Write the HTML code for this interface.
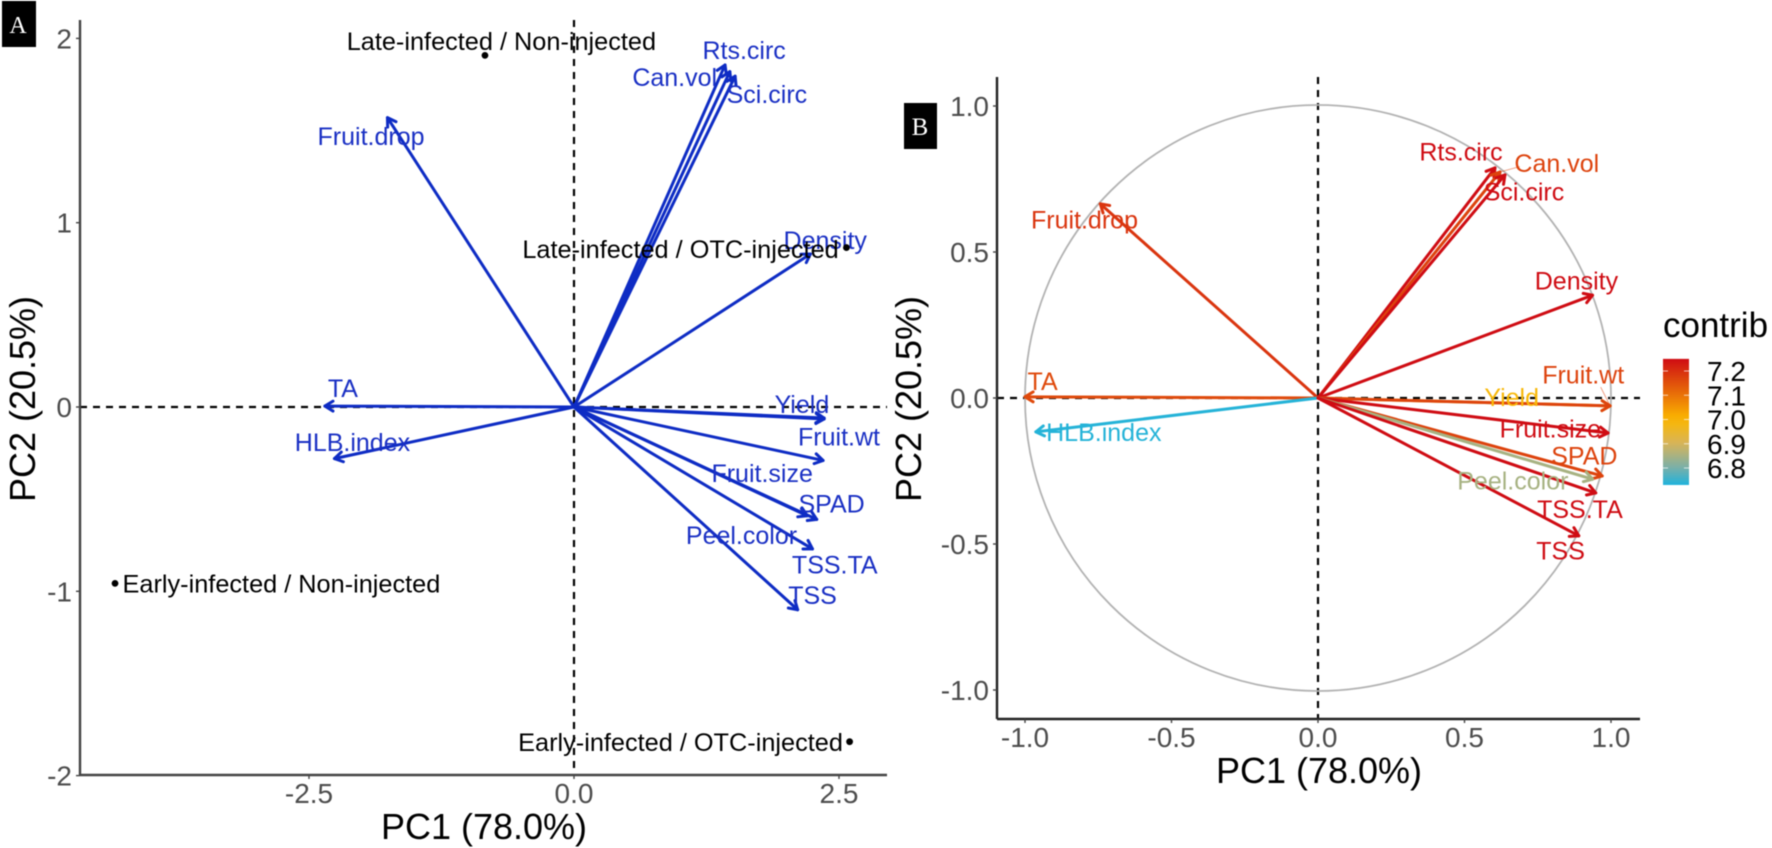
<!DOCTYPE html>
<html lang="en">
<head>
<meta charset="utf-8">
<title>PCA biplot and variable correlation circle</title>
<style>
html,body{margin:0;padding:0;background:#fff;overflow:hidden;}
#figure{display:block;width:1772px;height:848px;filter:blur(0.5px);}
text{font-family:"Liberation Sans",sans-serif;}
</style>
</head>
<body>
<svg id="figure" xmlns="http://www.w3.org/2000/svg" width="1772" height="848" viewBox="0 0 1772 848">
  <rect x="0" y="0" width="1772" height="848" fill="#ffffff"/>
  <g id="panelA"></g>
  <g id="panelB"></g>
  <g id="legend"></g>
  <g>
    <rect x="2" y="1" width="34" height="46" fill="#000"/>
    <text x="18" y="33" text-anchor="middle" fill="#fff" style="font-family:'Liberation Serif',serif;font-size:24px;">A</text>
  </g>
  <g>
    <rect x="904" y="103" width="33" height="46" fill="#000"/>
    <text x="920" y="135" text-anchor="middle" fill="#fff" style="font-family:'Liberation Serif',serif;font-size:25px;">B</text>
  </g>
</svg>
<script>
// Variables shared by both panels
const variables = ["Rts.circ","Can.vol","Sci.circ","Fruit.drop","Density","TA","HLB.index","Yield","Fruit.wt","Fruit.size","SPAD","Peel.color","TSS.TA","TSS"];

// Panel A: biplot arrows and label anchors (PC units)
const biplotPC1 = [1.425,1.47,1.52,-1.76,2.23,-2.35,-2.26,2.36,2.36,2.35,2.29,2.20,2.25,2.11];
const biplotPC2 = [1.856,1.82,1.795,1.57,0.83,0.005,-0.28,-0.065,-0.06,-0.29,-0.61,-0.59,-0.77,-1.10];
const biplotLabelPC1 = [1.605,0.95,1.82,-1.915,2.37,-2.18,-2.09,2.15,2.50,1.775,2.43,1.58,2.46,2.25];
const biplotLabelPC2 = [1.938,1.79,1.698,1.471,0.907,0.103,-0.191,0.017,-0.161,-0.357,-0.523,-0.694,-0.854,-1.02];

// Panel A: treatment scores
const treatments = ["Late-infected / Non-injected","Late-infected / OTC-injected","Early-infected / Non-injected","Early-infected / OTC-injected"];
const scorePC1 = [-0.84,2.57,-4.33,2.60];
const scorePC2 = [1.908,0.865,-0.957,-1.816];
const scoreLabelPC1 = [-0.685,1.005,-2.76,1.005];
const scoreLabelPC2 = [1.987,0.858,-0.958,-1.817];

// Panel B: loadings, label anchors and contributions
const loadingPC1 = [0.604,0.621,0.638,-0.743,0.937,-1.0,-0.963,0.997,0.997,0.99,0.97,0.937,0.948,0.89];
const loadingPC2 = [0.788,0.774,0.764,0.665,0.352,0.004,-0.116,-0.027,-0.027,-0.12,-0.267,-0.278,-0.325,-0.472];
const loadingLabelPC1 = [0.488,0.815,0.703,-0.797,0.882,-0.94,-0.731,0.661,0.905,0.793,0.909,0.665,0.894,0.828];
const loadingLabelPC2 = [0.845,0.805,0.708,0.611,0.402,0.058,-0.117,0.003,0.08,-0.105,-0.197,-0.283,-0.38,-0.523];
const contrib = [7.25,7.17,7.25,7.19,7.25,7.16,6.735,6.99,7.17,7.25,7.17,6.85,7.25,7.25];
const connectedLabels = ["Can.vol","Fruit.wt"];

// Axis ticks
const xTicksA = [-2.5,0,2.5];
const xTickLabelsA = ["-2.5","0.0","2.5"];
const yTicksA = [-2,-1,0,1,2];
const yTickLabelsA = ["-2","-1","0","1","2"];
const xTicksB = [-1,-0.5,0,0.5,1];
const xTickLabelsB = ["-1.0","-0.5","0.0","0.5","1.0"];
const yTicksB = [-1,-0.5,0,0.5,1];
const yTickLabelsB = ["-1.0","-0.5","0.0","0.5","1.0"];
const legendTicks = [6.8,6.9,7.0,7.1,7.2];
const legendTickLabels = ["6.8","6.9","7.0","7.1","7.2"];
const contribDomain = [6.73,7.25];

// Axis functions
const xA = v => 574 + v * 106;
const yA = v => 407 - v * 184.3;
const xB = v => 1318 + v * 293;
const yB = v => 398 - v * 292;
const yLegend = v => 371 + (7.2 - v) * 242.5;

const SVGNS = "http://www.w3.org/2000/svg";
function add(parent, tag, attrs, txt) {
  const el = document.createElementNS(SVGNS, tag);
  for (const k in attrs) el.setAttribute(k, attrs[k]);
  if (txt !== undefined) el.textContent = txt;
  parent.appendChild(el);
  return el;
}
function slug(s) { return s.toLowerCase().replace(/[^a-z0-9]+/g, "-").replace(/^-|-$/g, ""); }

function contribColor(v) {
  const stops = [[6.73,[31,179,220]],[6.8,[120,176,170]],[6.9,[215,180,90]],[7.0,[252,184,0]],[7.26,[205,5,20]]];
  if (v <= stops[0][0]) return "rgb(" + stops[0][1].join(",") + ")";
  for (let s = 1; s < stops.length; s++) {
    if (v <= stops[s][0]) {
      const t = (v - stops[s-1][0]) / (stops[s][0] - stops[s-1][0]);
      return "rgb(" + stops[s-1][1].map((c, i) => Math.round(c + (stops[s][1][i] - c) * t)).join(",") + ")";
    }
  }
  return "rgb(" + stops[stops.length-1][1].join(",") + ")";
}

function drawArrow(parent, name, x0, y0, x1, y1, color) {
  const g = add(parent, "g", {fill:"none", stroke:color, "stroke-width":3, "stroke-linecap":"round", "stroke-linejoin":"round"});
  
  
  add(g, "line", {x1:x0, y1:y0, x2:x1, y2:y1});
  const ang = Math.atan2(y1 - y0, x1 - x0), len = 9.5, spread = 0.55;
  const p1 = [x1 - len * Math.cos(ang - spread), y1 - len * Math.sin(ang - spread)];
  const p2 = [x1 - len * Math.cos(ang + spread), y1 - len * Math.sin(ang + spread)];
  add(g, "polyline", {points: p1.join(",") + " " + x1 + "," + y1 + " " + p2.join(",")});
  return g;
}

function drawAxes(parent, prefix, box, xTicks, xLabels, yTicks, yLabels, xf, yf, xTitle, yTitle, axisColor) {
  const zeroV = add(parent, "line", {x1:xf(0), x2:xf(0), y1:box.top, y2:box.bottom, stroke:"#000", "stroke-width":2.2, "stroke-dasharray":"7 6"});
  
  
  const zeroH = add(parent, "line", {x1:box.left, x2:box.right, y1:yf(0), y2:yf(0), stroke:"#000", "stroke-width":2.2, "stroke-dasharray":"7 6"});
  
  
  const xAxis = add(parent, "line", {x1:box.left, x2:box.right, y1:box.bottom, y2:box.bottom, stroke:axisColor, "stroke-width":2.4});
  
  
  const yAxis = add(parent, "line", {x1:box.left, x2:box.left, y1:box.top, y2:box.bottom, stroke:axisColor, "stroke-width":2.4});
  
  
  xTicks.forEach((t, i) => {
    const tick = add(parent, "line", {x1:xf(t), x2:xf(t), y1:box.bottom, y2:box.bottom + 4, stroke:"#444", "stroke-width":1.4});
    
    
    const lab = add(parent, "text", {x:xf(t), y:box.bottom + 28, "text-anchor":"middle", fill:"#4d4d4d", "font-size":28}, xLabels[i]);
    
    
  });
  yTicks.forEach((t, i) => {
    const tick = add(parent, "line", {x1:box.left - 4, x2:box.left, y1:yf(t), y2:yf(t), stroke:"#444", "stroke-width":1.4});
    
    
    const lab = add(parent, "text", {x:box.left - 8, y:yf(t) + 10, "text-anchor":"end", fill:"#4d4d4d", "font-size":28}, yLabels[i]);
    
    
  });
  const xt = add(parent, "text", {x:xTitle.x, y:xTitle.y, "text-anchor":"middle", fill:"#000", "font-size":36}, "PC1 (78.0%)");
  
  
  const yt = add(parent, "text", {x:0, y:0, transform:"translate(" + yTitle.x + "," + yTitle.y + ") rotate(-90)", "text-anchor":"middle", fill:"#000", "font-size":36}, "PC2 (20.5%)");
  
  
}

// Panel A
const panelA = document.getElementById("panelA");
drawAxes(panelA, "panel-a", {left:80, right:887, top:20, bottom:775}, xTicksA, xTickLabelsA, yTicksA, yTickLabelsA, xA, yA, {x:484,y:839}, {x:35,y:399}, "#444444");
const BLUE = "#0e2cc4";
variables.forEach((v, i) => {
  drawArrow(panelA, "biplot-arrow-" + slug(v), xA(0), yA(0), xA(biplotPC1[i]), yA(biplotPC2[i]), BLUE);
});
variables.forEach((v, i) => {
  const t = add(panelA, "text", {x:xA(biplotLabelPC1[i]), y:yA(biplotLabelPC2[i]) + 9, "text-anchor":"middle", fill:"#1a30c4", "font-size":25}, v);
  
  
});
treatments.forEach((v, i) => {
  const p = add(panelA, "circle", {cx:xA(scorePC1[i]), cy:yA(scorePC2[i]), r:3.4, fill:"#000"});
  
  
  const t = add(panelA, "text", {x:xA(scoreLabelPC1[i]), y:yA(scoreLabelPC2[i]) + 9, "text-anchor":"middle", fill:"#000", "font-size":25.3}, v);
  
  
});

// Panel B
const panelB = document.getElementById("panelB");
drawAxes(panelB, "panel-b", {left:997, right:1640, top:77, bottom:719}, xTicksB, xTickLabelsB, yTicksB, yTickLabelsB, xB, yB, {x:1319,y:783}, {x:921,y:399}, "#222222");
const unitCircle = add(panelB, "circle", {cx:xB(0), cy:yB(0), r:xB(1) - xB(0), fill:"none", stroke:"#b3b3b3", "stroke-width":1.8});


variables.forEach((v, i) => {
  drawArrow(panelB, "loading-arrow-" + slug(v), xB(0), yB(0), xB(loadingPC1[i]), yB(loadingPC2[i]), contribColor(contrib[i]));
});
connectedLabels.forEach(name => {
  const i = variables.indexOf(name);
  const tx = xB(loadingPC1[i]), ty = yB(loadingPC2[i]);
  const lx = xB(loadingLabelPC1[i]), ly = yB(loadingLabelPC2[i]);
  const c = add(panelB, "line", {x1:tx, y1:ty, x2:tx + (lx - tx) * 0.35, y2:ty + (ly - ty) * 0.6, stroke:contribColor(contrib[i]), "stroke-width":1, opacity:0.5});
  
  
});
variables.forEach((v, i) => {
  const t = add(panelB, "text", {x:xB(loadingLabelPC1[i]), y:yB(loadingLabelPC2[i]) + 9, "text-anchor":"middle", fill:contribColor(contrib[i]), "font-size":25}, v);
  
  
});

// Legend
const legend = document.getElementById("legend");
const legendTitle = add(legend, "text", {x:1663, y:337, fill:"#000", "font-size":35}, "contrib");


const defs = add(legend, "defs", {});
const grad = add(defs, "linearGradient", {id:"contribGradient", x1:0, y1:1, x2:0, y2:0});
[0,0.07,0.14,0.2,0.27,0.34,0.41,0.48,0.55,0.65,0.75,0.85,0.95,1].forEach(f => {
  add(grad, "stop", {offset:f, "stop-color":contribColor(contribDomain[0] + f * (contribDomain[1] - contribDomain[0]))});
});
const bar = add(legend, "rect", {x:1663, y:yLegend(contribDomain[1]), width:26, height:yLegend(contribDomain[0]) - yLegend(contribDomain[1]), fill:"url(#contribGradient)"});


legendTicks.forEach((t, i) => {
  const a = add(legend, "line", {x1:1663, x2:1668, y1:yLegend(t), y2:yLegend(t), stroke:"#fff", "stroke-width":1, opacity:0.7});
  
  
  const b = add(legend, "line", {x1:1684, x2:1689, y1:yLegend(t), y2:yLegend(t), stroke:"#fff", "stroke-width":1, opacity:0.7});
  
  
  const lab = add(legend, "text", {x:1707, y:yLegend(t) + 10, fill:"#000", "font-size":28}, legendTickLabels[i]);
  
  
});
</script>
</body>
</html>
